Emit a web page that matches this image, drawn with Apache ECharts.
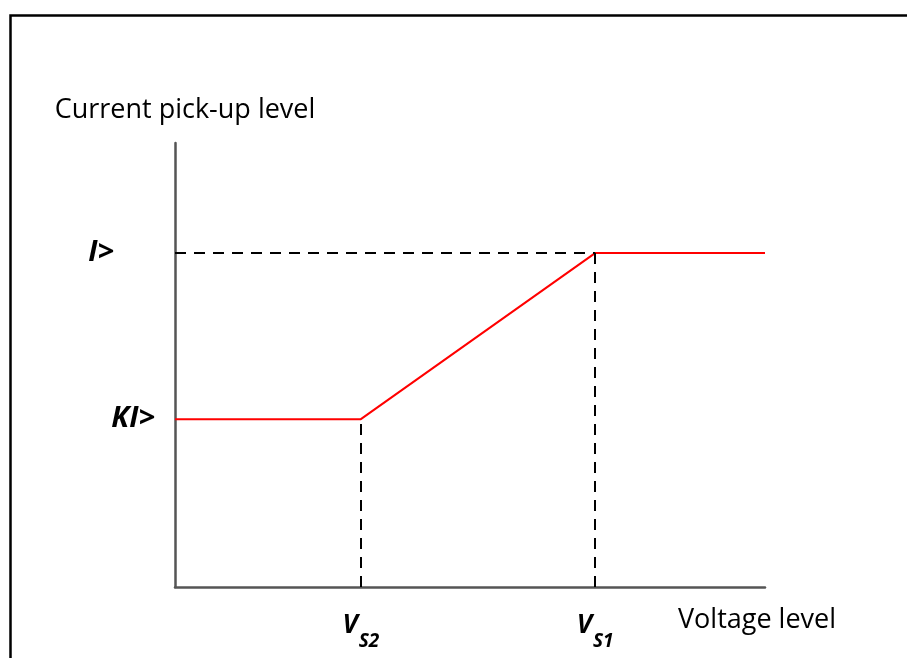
<!DOCTYPE html>
<html>
<head>
<meta charset="utf-8">
<script src="https://cdn.jsdelivr.net/npm/echarts@6/dist/echarts.min.js"></script>
<style>
html,body{margin:0;padding:0;background:#fff;}
#chart{width:907px;height:658px;}
</style>
</head>
<body>
<div id="chart"></div>
<script>
// Voltage-controlled pick-up characteristic (relative units, 0..100)
const xBreaks = [0, 31.5, 71.2, 100];        // start, V_S2, V_S1, end
const curveY = [37.8, 37.8, 75.2, 75.2];     // KI>, KI>, I>, I>
const xTickValues = [31.5, 71.2];
const xTickNames = ['S2', 'S1'];
const yTickValues = [37.8, 75.2];
const yTickNames = ['KI>', 'I>'];
const xAxisTitle = 'Voltage level';
const yAxisTitle = 'Current pick-up level';

const curve = xBreaks.map((x, i) => [x, curveY[i]]);
const vs2 = xTickValues[0], vs1 = xTickValues[1];
const kI = yTickValues[0], I = yTickValues[1];

const chart = echarts.init(document.getElementById('chart'), null, {renderer: 'canvas'});
const font = 'Open Sans';
chart.setOption({
  animation: false,
  backgroundColor: '#fff',
  graphic: [{
    type: 'rect', left: 8, top: 13, z: 100,
    shape: {x: 0, y: 0, width: 1000, height: 1000},
    style: {fill: 'none', stroke: '#000', lineWidth: 2.5}
  }],
  grid: {left: 175, right: 142, top: 143, bottom: 71, containLabel: false},
  xAxis: {
    type: 'value', min: 0, max: 100,
    name: xAxisTitle, nameLocation: 'end', nameGap: -87,
    nameTextStyle: {fontFamily: font, fontSize: 27, color: '#000', align: 'left', verticalAlign: 'top', padding: [20, 0, 0, 0]},
    axisLine: {show: true, lineStyle: {color: '#555', width: 2.5}},
    axisTick: {show: false},
    splitLine: {show: false},
    axisLabel: {
      customValues: xTickValues,
      margin: 14,
      formatter: v => '{v|V}{s|' + xTickNames[xTickValues.indexOf(v)] + '}',
      rich: {
        v: {fontFamily: font, fontSize: 26, fontStyle: 'italic', fontWeight: 'bold', color: '#000'},
        s: {fontFamily: font, fontSize: 19, fontStyle: 'italic', fontWeight: 'bold', color: '#000', padding: [31, 0, 0, 1]}
      }
    }
  },
  yAxis: {
    type: 'value', min: 0, max: 100,
    name: yAxisTitle, nameLocation: 'end', nameGap: 19,
    nameTextStyle: {fontFamily: font, fontSize: 27, color: '#000', align: 'center', padding: [0, 0, 0, 20]},
    axisLine: {show: true, lineStyle: {color: '#555', width: 2.5}},
    axisTick: {show: false},
    splitLine: {show: false},
    axisLabel: {
      customValues: yTickValues,
      margin: 20,
      formatter: v => {
        const n = yTickNames[yTickValues.indexOf(v)];
        return n === 'I>' ? '{b|' + n + '}' : '{a|' + n + '}';
      },
      rich: {
        a: {fontFamily: font, fontSize: 29, fontStyle: 'italic', fontWeight: 'bold', color: '#000'},
        b: {fontFamily: font, fontSize: 29, fontStyle: 'italic', fontWeight: 'bold', color: '#000', padding: [0, 41, 0, 0]}
      }
    }
  },
  series: [{
    type: 'line',
    data: curve,
    symbol: 'none',
    lineStyle: {color: '#ff0000', width: 2},
    z: 3,
    markLine: {
      silent: true,
      symbol: 'none',
      label: {show: false},
      lineStyle: {color: '#000', width: 2, type: [11, 8]},
      data: [
        [{coord: [0, I]}, {coord: [vs1, I]}],
        [{coord: [vs2, 0]}, {coord: [vs2, kI]}],
        [{coord: [vs1, 0]}, {coord: [vs1, I]}]
      ]
    }
  }]
});
</script>
</body>
</html>
